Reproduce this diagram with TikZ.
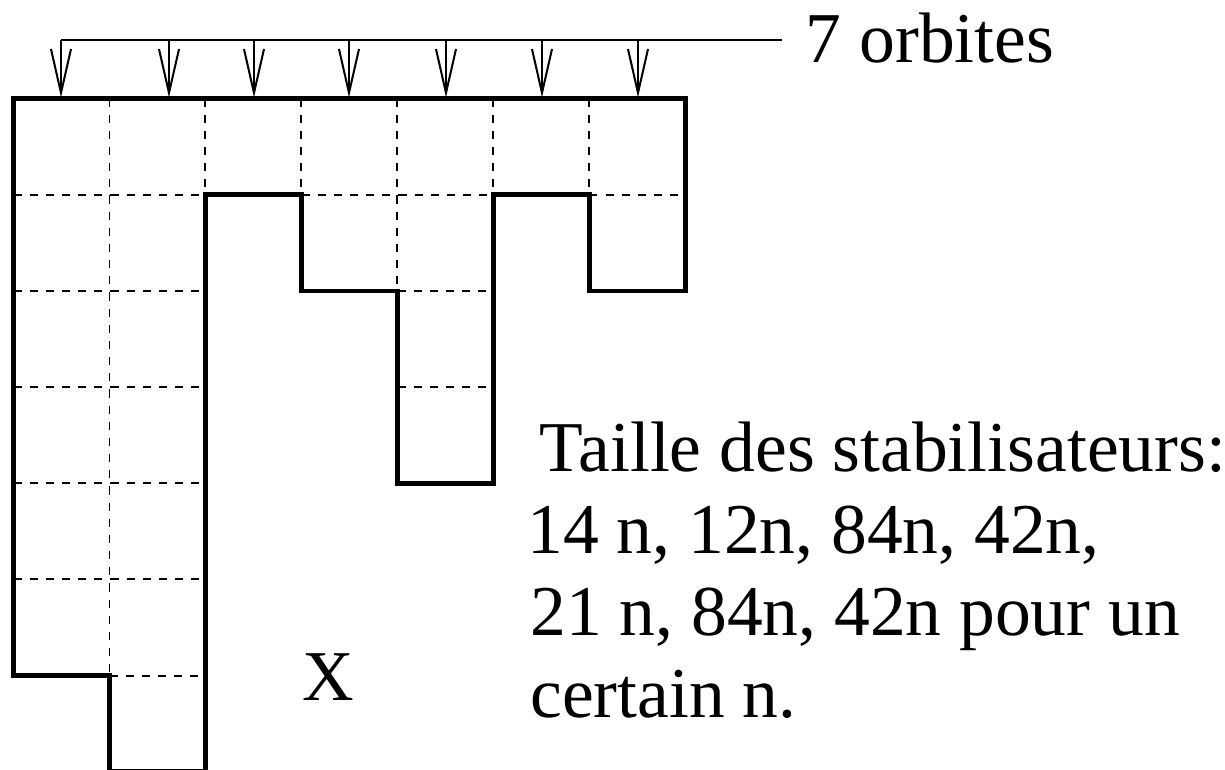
\documentclass[tikz,border=0pt]{standalone}
\usepackage{fontspec}
\setmainfont{Liberation Serif}
\usetikzlibrary{arrows.meta}
\begin{document}
\begin{tikzpicture}[x=0.02cm,y=-0.02cm,
  outline/.style={line width=2.6pt, line join=miter},
  cellsep/.style={line width=1.1pt, dash pattern=on 4.6pt off 4.6pt},
  bar/.style={line width=1.15pt},
  feed/.style={line width=1.15pt, -{Straight Barb[length=25pt,width=11.4pt,line width=1.15pt]}},
  lbl/.style={inner sep=0pt, font=\fontsize{40.7pt}{47pt}\selectfont, anchor=base west}]
\useasboundingbox (0,0) rectangle (1225,770);
\clip (0,0) rectangle (1225,770);

% the board, in cell units
\begin{scope}[shift={(13.5,98.5)}, x=1.92cm, y=-1.924cm]
  % dashed separations between cells
  \draw[cellsep] (1,0) -- (1,6);
  \draw[cellsep] (2,0) -- (2,1);
  \draw[cellsep] (3,0) -- (3,1);
  \draw[cellsep] (4,0) -- (4,2);
  \draw[cellsep] (5,0) -- (5,1);
  \draw[cellsep] (6,0) -- (6,1);
  \draw[cellsep] (0,1) -- (2,1);
  \draw[cellsep] (3,1) -- (5,1);
  \draw[cellsep] (6,1) -- (7,1);
  \draw[cellsep] (0,2) -- (2,2);
  \draw[cellsep] (4,2) -- (5,2);
  \draw[cellsep] (0,3) -- (2,3);
  \draw[cellsep] (4,3) -- (5,3);
  \draw[cellsep] (0,4) -- (2,4);
  \draw[cellsep] (0,5) -- (2,5);
  \draw[cellsep] (1,6) -- (2,6);
  % boundary of the region
  \draw[outline] (0,0) -- (7,0) -- (7,2) -- (6,2) -- (6,1) -- (5,1) -- (5,4)
    -- (4,4) -- (4,2) -- (3,2) -- (3,1) -- (2,1) -- (2,7) -- (1,7) -- (1,6)
    -- (0,6) -- cycle;
\end{scope}

% orbit markers
\coordinate (barW) at (61,40);
\coordinate (barE) at (782,40);
\draw[bar] (barW) -- (barE);
\foreach \i/\xx in {1/61,2/169,3/254,4/349,5/446,6/542,7/638}{
  \coordinate (top\i) at (\xx,40);
  \coordinate (hit\i) at (\xx,97.5);
  \draw[feed] (top\i) -- (hit\i);
}

\node[lbl] (orb) at (805.5,63) {7 orbites};
\node[lbl, anchor=base] (x) at (328,700) {X};

\node[lbl] (t1) at (539.5,472) {Taille des stabilisateurs:};
\node[lbl] (t2) at (527,553.5) {14 n, 12n, 84n, 42n,};
\node[lbl] (t3) at (530,635) {21 n, 84n, 42n pour un};
\node[lbl] (t4) at (530,717) {certain n.};
\end{tikzpicture}
\end{document}
